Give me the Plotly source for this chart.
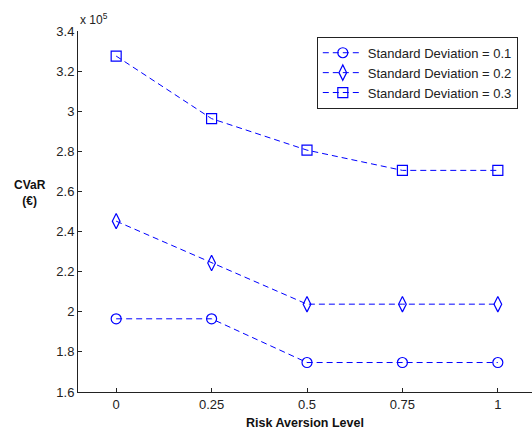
import plotly.graph_objects as go

risk_levels = [0, 0.25, 0.5, 0.75, 1]
sd_01 = [1.965, 1.965, 1.747, 1.747, 1.747]
sd_02 = [2.452, 2.243, 2.038, 2.038, 2.038]
sd_03 = [3.275, 2.963, 2.806, 2.705, 2.705]
series_names = ["Standard Deviation = 0.1", "Standard Deviation = 0.2", "Standard Deviation = 0.3"]
x_ticks = [0, 0.25, 0.5, 0.75, 1]
x_tick_labels = ["0", "0.25", "0.5", "0.75", "1"]
y_ticks = [1.6, 1.8, 2.0, 2.2, 2.4, 2.6, 2.8, 3.0, 3.2, 3.4]
y_tick_labels = ["1.6", "1.8", "2", "2.2", "2.4", "2.6", "2.8", "3", "3.2", "3.4"]

blue = "#0000ff"
font = "Liberation Sans, Arial, sans-serif"

fig = go.Figure()
for vals, name, sym in zip([sd_01, sd_02, sd_03], series_names,
                           ["circle-open", "diamond-tall-open", "square-open"]):
    fig.add_trace(go.Scatter(
        x=risk_levels, y=vals, name=name, mode="lines+markers",
        line=dict(color=blue, width=1, dash="6px,4px"),
        marker=dict(symbol=sym, size=10 if sym != "diamond-tall-open" else 11,
                    color=blue, line=dict(color=blue, width=1.2)),
    ))

fig.update_layout(
    width=532, height=430,
    margin=dict(l=78, r=0, t=31, b=38),
    paper_bgcolor="white", plot_bgcolor="white",
    font=dict(family=font, size=13, color="#222"),
    showlegend=True,
    legend=dict(x=0.526, y=0.984, xanchor="left", yanchor="top",
                bgcolor="white", bordercolor="#222", borderwidth=1,
                font=dict(family=font, size=13, color="#222"),
                tracegroupgap=0, itemwidth=40),
    xaxis=dict(range=[-0.1, 1.0895], tickvals=x_ticks, ticktext=x_tick_labels,
               showgrid=False, zeroline=False, showline=True, linecolor="#222",
               linewidth=1, ticks="inside", ticklen=4, tickcolor="#222"),
    yaxis=dict(range=[1.6, 3.4], tickvals=y_ticks, ticktext=y_tick_labels,
               showgrid=False, zeroline=False, showline=True, linecolor="#222",
               linewidth=1, ticks="inside", ticklen=4, tickcolor="#222"),
    annotations=[
        dict(text="x 10<sup>5</sup>", xref="paper", yref="paper", x=0.0, y=1.0,
             xanchor="left", yanchor="bottom", showarrow=False,
             font=dict(family=font, size=12, color="#222"), yshift=2),
        dict(text="<b>CVaR</b><br><b>(€)</b>", xref="paper", yref="paper",
             x=-0.105, y=0.55, xanchor="center", yanchor="middle", showarrow=False,
             font=dict(family=font, size=12, color="#111")),
        dict(text="<b>Risk Aversion Level</b>", xref="paper", yref="paper",
             x=0.5, y=-0.062, xanchor="center", yanchor="top", showarrow=False,
             font=dict(family=font, size=12.5, color="#111")),
    ],
)

fig.write_html("out.html", config={"displayModeBar": False},
               post_script="document.body.style.margin='0';document.body.style.padding='0';")
